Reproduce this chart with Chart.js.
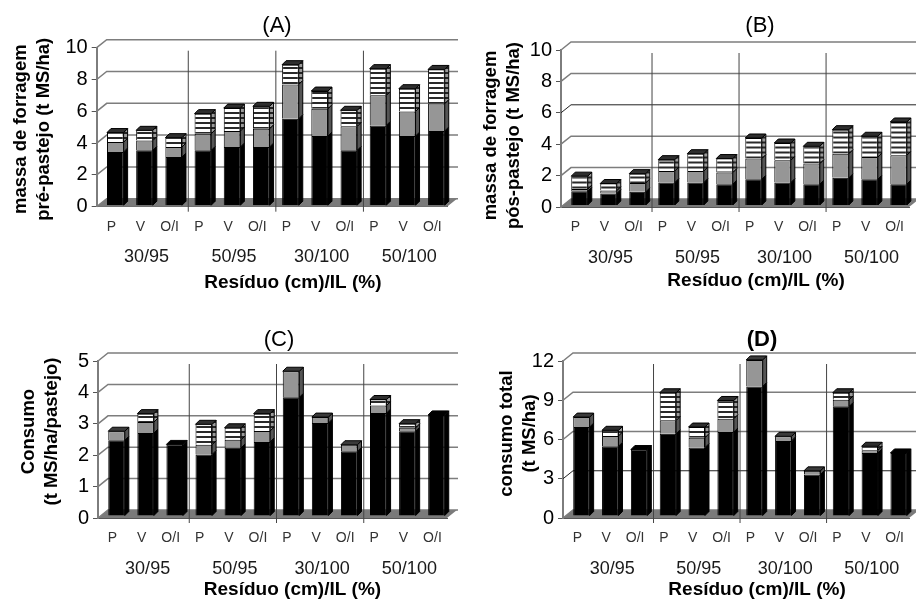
<!DOCTYPE html>
<html>
<head>
<meta charset="utf-8">
<script src="https://cdn.jsdelivr.net/npm/chart.js@4"></script>
<style>
  html, body { margin: 0; background: #fff; overflow: hidden; }
  canvas { position: absolute; filter: blur(0.35px); }
</style>
</head>
<body>
<canvas id="chartA"></canvas>
<canvas id="chartB"></canvas>
<canvas id="chartC"></canvas>
<canvas id="chartD"></canvas>
<script>
// categorias
const seasons = ['P', 'V', 'O/I', 'P', 'V', 'O/I', 'P', 'V', 'O/I', 'P', 'V', 'O/I'];
const treatments = ['30/95', '50/95', '30/100', '50/100'];
const xTitle = 'Resíduo (cm)/IL (%)';

// valores (preto, cinza, listrado)
const aBlack = [3.38, 3.48, 3.06, 3.48, 3.69, 3.69, 5.47, 4.38, 3.48, 5.05, 4.38, 4.70];
const aGray = [0.62, 0.62, 0.63, 1.05, 1.01, 1.15, 2.16, 1.72, 1.51, 1.89, 1.55, 1.72];
const aStriped = [0.60, 0.64, 0.59, 1.26, 1.44, 1.41, 1.24, 1.11, 1.01, 1.68, 1.43, 2.15];

const bBlack = [0.90, 0.76, 0.87, 1.46, 1.46, 1.36, 1.67, 1.46, 1.36, 1.76, 1.67, 1.36];
const bGray = [0.15, 0.19, 0.57, 0.74, 0.74, 0.74, 1.32, 1.42, 1.31, 1.54, 1.42, 1.84];
const bStriped = [0.82, 0.45, 0.59, 0.72, 1.10, 0.89, 1.31, 1.10, 1.10, 1.53, 1.32, 2.12];

const cBlack = [2.41, 2.64, 2.28, 1.96, 2.17, 2.36, 3.78, 2.96, 2.06, 3.28, 2.70, 3.22];
const cGray = [0.29, 0.35, 0, 0.31, 0.26, 0.35, 0.83, 0.19, 0.21, 0.24, 0.11, 0];
const cStriped = [0, 0.27, 0, 0.65, 0.38, 0.55, 0, 0, 0, 0.19, 0.13, 0];

const dBlack = [6.80, 5.33, 5.08, 6.29, 5.23, 6.42, 9.90, 5.74, 3.17, 8.38, 4.82, 4.82];
const dGray = [0.76, 0.79, 0, 1.02, 0.76, 1.02, 2.03, 0.35, 0.28, 0.50, 0.21, 0];
const dStriped = [0, 0.43, 0, 2.11, 0.81, 1.39, 0, 0, 0, 0.54, 0.30, 0];

const FONT = '"Liberation Sans", Arial, sans-serif';

// listras horizontais das barras
function stripes(white, dark) {
  const c = document.createElement('canvas');
  c.width = 4;
  c.height = 5;
  const g = c.getContext('2d');
  g.fillStyle = white;
  g.fillRect(0, 0, 4, 5);
  g.fillStyle = dark;
  g.fillRect(0, 3, 4, 2);
  return g.createPattern(c, 'repeat');
}
const frontStripes = stripes('#ffffff', '#2a2a2a');
const sideStripes = stripes('#9a9a9a', '#222222');

const sideColors = ['#000000', '#555555', sideStripes];
const capColors = ['#000000', '#3a3a3a', '#2e2e2e'];

// titulo do eixo nao fica centrado no eixo na figura original
function shiftTitle(s, dx, dy) {
  if (s.titleShifted) return;
  const orig = s.drawTitle;
  s.drawTitle = function () {
    s.ctx.save();
    s.ctx.translate(dx, dy);
    orig.call(s);
    s.ctx.restore();
  };
  s.titleShifted = true;
}

// efeito 3D do grafico original: parede, piso, separadores e faces das barras
const depthPlugin = {
  id: 'depth',
  afterLayout(chart, args, opts) {
    // desloca o titulo (A) (B)... para onde ele fica na figura
    const t = chart.titleBlock;
    const mid = (t.left + t.right) / 2;
    t.left += opts.titleX - mid;
    t.right += opts.titleX - mid;
  },
  beforeDatasetsDraw(chart, args, opts) {
    const { ctx, chartArea: area, scales } = chart;
    const back = { x: 10, y: -8 };
    ctx.save();
    // piso
    ctx.fillStyle = '#7a7a7a';
    ctx.beginPath();
    ctx.moveTo(area.left, area.bottom);
    ctx.lineTo(area.left + back.x, area.bottom + back.y);
    ctx.lineTo(area.right + back.x, area.bottom + back.y);
    ctx.lineTo(area.right, area.bottom);
    ctx.closePath();
    ctx.fill();
    // grade na parede do fundo
    scales.y.ticks.forEach(tick => {
      const y = scales.y.getPixelForValue(tick.value);
      const dark = tick.value === opts.darkLine;
      ctx.strokeStyle = dark ? '#222222' : '#7d7d7d';
      ctx.lineWidth = dark ? 1 : 1.5;
      ctx.beginPath();
      ctx.moveTo(area.left, y);
      ctx.lineTo(area.left + back.x, y + back.y);
      ctx.lineTo(area.right + back.x + 1, y + back.y);
      ctx.stroke();
    });
    // separadores dos tratamentos
    ctx.strokeStyle = '#444444';
    ctx.lineWidth = 1;
    [2.5, 5.5, 8.5].forEach(v => {
      const x = scales.x.getPixelForValue(v) + opts.shiftX;
      ctx.beginPath();
      ctx.moveTo(x, area.top + 3);
      ctx.lineTo(x, area.bottom + 5);
      ctx.stroke();
    });
    ctx.restore();
    // barras ficam no meio da profundidade
    ctx.save();
    ctx.translate(opts.shiftX, opts.shiftY);
  },
  afterDatasetsDraw(chart, args, opts) {
    const ctx = chart.ctx;
    const d = opts.depth;
    const count = chart.data.labels.length;
    for (let j = 0; j < count; j++) {
      let top = -1;
      chart.data.datasets.forEach((ds, i) => {
        if (ds.data[j] > 0) top = i;
      });
      chart.data.datasets.forEach((ds, i) => {
        if (!(ds.data[j] > 0)) return;
        const el = chart.getDatasetMeta(i).data[j];
        const p = el.getProps(['x', 'y', 'base', 'width'], true);
        const l = p.x - p.width / 2;
        const r = p.x + p.width / 2;
        ctx.lineWidth = 1;
        ctx.strokeStyle = '#000000';
        ctx.fillStyle = sideColors[i];
        ctx.beginPath();
        ctx.moveTo(r, p.y);
        ctx.lineTo(r + d, p.y - d);
        ctx.lineTo(r + d, p.base - d);
        ctx.lineTo(r, p.base);
        ctx.closePath();
        ctx.fill();
        ctx.stroke();
        if (i === top) {
          ctx.fillStyle = capColors[i];
          ctx.beginPath();
          ctx.moveTo(l, p.y);
          ctx.lineTo(l + d, p.y - d);
          ctx.lineTo(r + d, p.y - d);
          ctx.lineTo(r, p.y);
          ctx.closePath();
          ctx.fill();
          ctx.stroke();
        }
      });
    }
    ctx.restore();
  }
};

function drawPanel(p) {
  const canvas = document.getElementById(p.id);
  canvas.width = p.w;
  canvas.height = p.h;
  canvas.style.left = p.x + 'px';
  canvas.style.top = p.y + 'px';

  new Chart(canvas, {
    type: 'bar',
    plugins: [depthPlugin],
    data: {
      labels: seasons,
      datasets: [
        { data: p.black, backgroundColor: '#000000' },
        { data: p.gray, backgroundColor: '#969696' },
        { data: p.striped, backgroundColor: frontStripes }
      ].map(ds => ({
        ...ds,
        borderColor: '#000000',
        borderWidth: 1,
        barPercentage: 0.57,
        categoryPercentage: 1,
        clip: false
      }))
    },
    options: {
      responsive: false,
      animation: false,
      layout: { padding: { left: p.padLeft, right: p.w - p.right, top: 0, bottom: p.padBottom } },
      plugins: {
        legend: { display: false },
        tooltip: { enabled: false },
        title: {
          display: true,
          text: p.title,
          color: '#000000',
          font: { family: FONT, size: 22, weight: p.titleWeight, lineHeight: 1.2 },
          padding: { top: p.titleTop, bottom: p.top - p.titleTop - 26.4 }
        },
        depth: { titleX: p.titleX, shiftX: 4, shiftY: p.shiftY, depth: 4, darkLine: p.darkLine }
      },
      scales: {
        x: {
          stacked: true,
          position: 'bottom',
          grid: { display: false, drawTicks: false },
          border: { color: '#555555', width: 1 },
          ticks: {
            color: '#333333',
            font: { family: FONT, size: 14 },
            padding: 12,
            maxRotation: 0,
            autoSkip: false
          },
          afterFit(s) { s.height = 36; }
        },
        x2: {
          type: 'category',
          labels: treatments,
          position: 'bottom',
          grid: { display: false, drawTicks: false },
          border: { display: false },
          ticks: {
            color: '#1a1a1a',
            font: { family: FONT, size: 18 },
            padding: 4,
            labelOffset: 6,
            maxRotation: 0,
            autoSkip: false
          },
          title: {
            display: true,
            text: xTitle,
            color: '#000000',
            font: { family: FONT, size: 19, weight: 'bold', lineHeight: 1.2 },
            padding: 0
          },
          afterFit(s) {
            s.height = p.h - p.bottom - 36 - p.padBottom;
            shiftTitle(s, p.xTitleShift, 0);
          }
        },
        y: {
          stacked: true,
          min: 0,
          max: p.max,
          grid: { drawOnChartArea: false, color: '#555555', tickLength: 5 },
          border: { color: '#7d7d7d', width: 2 },
          ticks: {
            stepSize: p.step,
            color: '#000000',
            font: { family: FONT, size: 20 },
            padding: 4
          },
          title: {
            display: true,
            text: p.yTitle,
            color: '#000000',
            font: { family: FONT, size: 18.5, weight: 'bold', lineHeight: 1.26 },
            padding: 0
          },
          afterFit(s) {
            s.width = p.left - p.padLeft;
            shiftTitle(s, 0, p.yTitleShift);
          }
        }
      }
    }
  });
}

drawPanel({
  id: 'chartA', title: '(A)', x: 0, y: 0, w: 458, h: 300,
  left: 96.7, right: 447, top: 47.7, bottom: 206.7, padLeft: 9, padBottom: 6, shiftY: -1,
  titleX: 277, titleTop: 13, titleWeight: 'normal', yTitleShift: 2, xTitleShift: 21,
  max: 10, step: 2,
  yTitle: ['massa de forragem', 'pré-pastejo (t MS/ha)'],
  black: aBlack, gray: aGray, striped: aStriped
});
drawPanel({
  id: 'chartB', title: '(B)', x: 458, y: 0, w: 458, h: 300,
  left: 103, right: 456, top: 50, bottom: 207, padLeft: 21, padBottom: 8, shiftY: -1.5,
  titleX: 302, titleTop: 13, titleWeight: 'normal', yTitleShift: 7, xTitleShift: 21, darkLine: 6,
  max: 10, step: 2,
  yTitle: ['massa de forragem', 'pós-pastejo (t MS/ha)'],
  black: bBlack, gray: bGray, striped: bStriped
});
drawPanel({
  id: 'chartC', title: '(C)', x: 0, y: 300, w: 458, h: 301,
  left: 98, right: 447, top: 61, bottom: 218, padLeft: 17, padBottom: 0, shiftY: -2,
  titleX: 279, titleTop: 27, titleWeight: 'normal', yTitleShift: -8, xTitleShift: 20,
  max: 5, step: 1,
  yTitle: ['Consumo', '(t MS/ha/pastejo)'],
  black: cBlack, gray: cGray, striped: cStriped
});
drawPanel({
  id: 'chartD', title: '(D)', x: 458, y: 300, w: 458, h: 301,
  left: 105, right: 458, top: 61, bottom: 218, padLeft: 37, padBottom: 0, shiftY: -2,
  titleX: 304, titleTop: 27, titleWeight: 'bold', yTitleShift: -6, xTitleShift: 21, darkLine: 3,
  max: 12, step: 3,
  yTitle: ['consumo total', '(t MS/ha)'],
  black: dBlack, gray: dGray, striped: dStriped
});
</script>
</body>
</html>
